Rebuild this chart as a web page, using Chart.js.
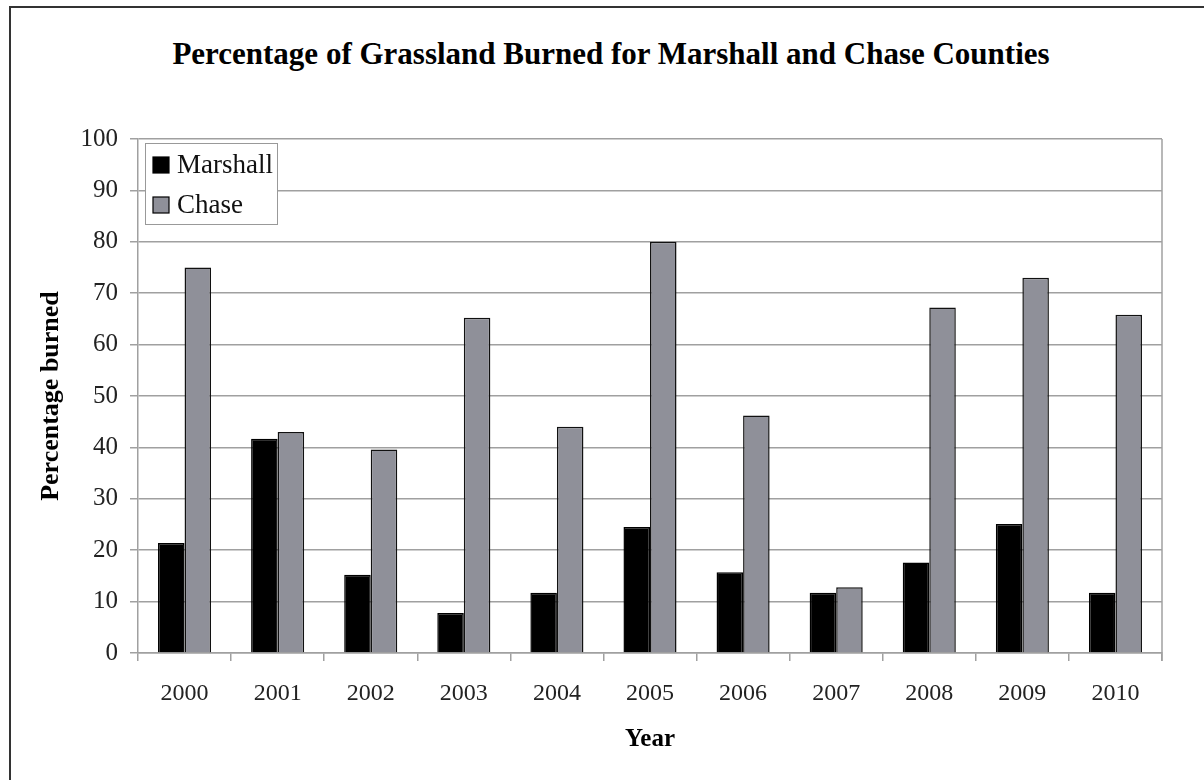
<!DOCTYPE html>
<html>
<head>
<meta charset="utf-8">
<script src="https://cdn.jsdelivr.net/npm/chart.js@4.4.1/dist/chart.umd.min.js"></script>
<style>
  html, body { margin: 0; padding: 0; background: #fff; overflow: hidden; }
  #wrap { position: relative; width: 1204px; height: 780px; }
  #frame { position: absolute; left: 9px; top: 6px; width: 1400px; height: 1000px;
           border-left: 2px solid #333; border-top: 2px solid #333; }
  #titolo { position: absolute; left: 0; width: 1222px; top: 36px; text-align: center;
            font: bold 31px "Liberation Serif", "DejaVu Serif", serif; color: #000; }
  canvas { position: absolute; left: 0; top: 0; }
</style>
</head>
<body>
<div id="wrap">
  <div id="frame"></div>
  <div id="titolo">Percentage of Grassland Burned for Marshall and Chase Counties</div>
  <canvas id="grafico" width="1204" height="780"></canvas>
</div>
<script>
// DATI
const anni = ["2000", "2001", "2002", "2003", "2004", "2005", "2006", "2007", "2008", "2009", "2010"];
const marshall = [21.4, 41.7, 15.2, 7.8, 11.7, 24.5, 15.7, 11.7, 17.6, 25.1, 11.7];
const chase = [75.0, 43.0, 39.6, 65.2, 44.0, 80.0, 46.2, 12.8, 67.2, 73.0, 65.8];
const tickY = [0, 10, 20, 30, 40, 50, 60, 70, 80, 90, 100];

const SERIF = '"Liberation Serif", "DejaVu Serif", serif';

// legenda dentro l'area del grafico, in alto a sinistra
const legendaInterna = {
  id: 'legendaInterna',
  afterDraw(chart) {
    const ctx = chart.ctx;
    const a = chart.chartArea;
    const x = a.left + 7, y = a.top + 4, w = 132, h = 81;
    ctx.save();
    ctx.fillStyle = '#fff';
    ctx.fillRect(x, y, w, h);
    ctx.strokeStyle = '#999';
    ctx.lineWidth = 1;
    ctx.strokeRect(x + 0.5, y + 0.5, w, h);
    ctx.font = '27px ' + SERIF;
    ctx.textBaseline = 'middle';
    chart.data.datasets.forEach((ds, i) => {
      const cy = y + 22 + i * 40;
      ctx.fillStyle = ds.backgroundColor;
      ctx.fillRect(x + 8, cy - 8, 16, 16);
      ctx.strokeStyle = '#000';
      ctx.lineWidth = 1.2;
      ctx.strokeRect(x + 8, cy - 8, 16, 16);
      ctx.fillStyle = '#111';
      ctx.fillText(ds.label, x + 32, cy + 1);
    });
    ctx.restore();
  }
};

// bordo destro dell'area del grafico
const bordoDestro = {
  id: 'bordoDestro',
  afterDatasetsDraw(chart) {
    const ctx = chart.ctx;
    const a = chart.chartArea;
    ctx.save();
    ctx.strokeStyle = '#a0a0a0';
    ctx.lineWidth = 1.5;
    ctx.beginPath();
    ctx.moveTo(a.right, a.top);
    ctx.lineTo(a.right, a.bottom + 8);
    ctx.stroke();
    ctx.restore();
  }
};

const ctx = document.getElementById('grafico').getContext('2d');
new Chart(ctx, {
  type: 'bar',
  data: {
    labels: anni,
    datasets: [
      { label: 'Marshall', data: marshall, backgroundColor: '#000000', borderColor: '#000000', borderWidth: 1.5 },
      { label: 'Chase', data: chase, backgroundColor: '#8f9099', borderColor: '#111111', borderWidth: 1.5 }
    ]
  },
  options: {
    responsive: false,
    animation: false,
    layout: { padding: { left: 10, right: 42, top: 139, bottom: 0 } },
    datasets: { bar: { categoryPercentage: 0.57, barPercentage: 1.0 } },
    plugins: {
      legend: { display: false },
      title: { display: false },
      tooltip: { enabled: false }
    },
    scales: {
      x: {
        grid: { offset: true, drawOnChartArea: false, drawTicks: true, tickLength: 8, color: '#a0a0a0', lineWidth: 1.5 },
        border: { color: '#a0a0a0', width: 1.5 },
        ticks: { color: '#222', padding: 18, font: { family: SERIF, size: 24 }, maxRotation: 0, autoSkip: false },
        title: { display: true, text: 'Year', color: '#000', font: { family: SERIF, size: 25, weight: 'bold' }, padding: { top: 0, bottom: 25 } },
        afterFit(scale) { scale.height = 127; }
      },
      y: {
        min: 0,
        max: 100,
        afterBuildTicks(scale) { scale.ticks = tickY.map(v => ({ value: v })); },
        grid: { color: '#a0a0a0', lineWidth: 1.5, tickLength: 8 },
        border: { color: '#a0a0a0', width: 1.5 },
        ticks: { color: '#222', padding: 12, font: { family: SERIF, size: 25 } },
        title: { display: true, text: 'Percentage burned', color: '#000', font: { family: SERIF, size: 26, weight: 'bold' }, padding: { top: 26, bottom: 0 } },
        afterFit(scale) { scale.width = 128; }
      }
    }
  },
  plugins: [legendaInterna, bordoDestro]
});
</script>
</body>
</html>
